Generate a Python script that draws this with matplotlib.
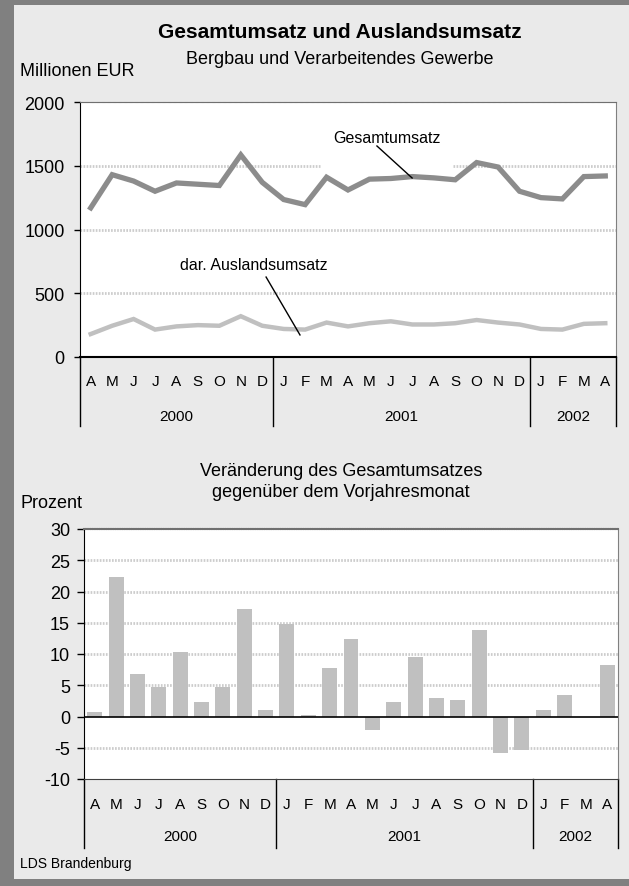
import numpy as np
import matplotlib.pyplot as plt
from matplotlib.patches import Rectangle

plt.rcParams['font.family'] = ['Liberation Sans', 'DejaVu Sans']
plt.rcParams['axes.unicode_minus'] = False

# Data (Apr 2000 - Apr 2002)
months = ['A', 'M', 'J', 'J', 'A', 'S', 'O', 'N', 'D',
          'J', 'F', 'M', 'A', 'M', 'J', 'J', 'A', 'S', 'O', 'N', 'D',
          'J', 'F', 'M', 'A']
years = ['2000', '2001', '2002']
year_len = [9, 12, 4]

gesamt = [1170, 1430, 1380, 1300, 1365, 1355, 1345, 1585, 1370,
          1235, 1195, 1410, 1310, 1395, 1400, 1415, 1405, 1390, 1525, 1490, 1300,
          1250, 1240, 1415, 1420]
ausland = [180, 245, 298, 215, 240, 250, 245, 320, 245,
           220, 215, 270, 240, 265, 280, 255, 255, 265, 290, 270, 255,
           220, 215, 260, 265]
change = [0.8, 22.3, 6.8, 4.8, 10.4, 2.4, 4.8, 17.2, 1.1,
          14.8, 0.3, 7.8, 12.4, -2.2, 2.3, 9.6, 3.0, 2.7, 13.8, -5.9, -5.4,
          1.1, 3.4, 0.0, 8.3]

W, H = 629, 887
PANEL = '#eaeaea'
GRID = '#cccccc'
DOT = (0, (0.6, 0.5))


def rect(l, t, r, b):
    return [l / W, 1 - b / H, (r - l) / W, (b - t) / H]


def ftext(x, y, s, **kw):
    fig.text(x / W, 1 - y / H, s, va='center', **kw)


def category_axis(ax, month_y, year_y, line_bottom):
    x = np.arange(len(months))
    tr = ax.get_xaxis_transform()
    for xi, m in zip(x, months):
        ax.text(xi, month_y, m, transform=tr, ha='center', va='center', fontsize=11)
    edges = -0.5 + np.cumsum([0] + year_len)
    for e in edges:
        ax.plot([e, e], [0, line_bottom], transform=tr, color='black', lw=1, clip_on=False)
    for a, b, y in zip(edges[:-1], edges[1:], years):
        ax.text((a + b) / 2, year_y, y, transform=tr, ha='center', va='center', fontsize=11)
    ax.set_xlim(-0.5, len(months) - 0.5)
    ax.set_xticks([])


fig = plt.figure(figsize=(W / 100, H / 100), dpi=100, facecolor='#808080')
fig.add_artist(Rectangle((14 / W, 1 - 880 / H), (W - 14) / W, (880 - 6) / H,
                         transform=fig.transFigure, facecolor=PANEL, edgecolor='none', zorder=0))

ftext(340, 33, 'Gesamtumsatz und Auslandsumsatz', ha='center', fontsize=15, fontweight='bold')
ftext(340, 60, 'Bergbau und Verarbeitendes Gewerbe', ha='center', fontsize=13)
ftext(20, 71, 'Millionen EUR', ha='left', fontsize=13)

# Top chart
ax1 = fig.add_axes(rect(80, 103, 616, 358))
x = np.arange(len(months))
for v in [500, 1000]:
    ax1.axhline(v, color=GRID, lw=2, ls=DOT, zorder=1)
ax1.hlines(1500, -0.5, 10.7, color=GRID, lw=2, ls=DOT, zorder=1)
ax1.hlines(1500, 16.9, 24.5, color=GRID, lw=2, ls=DOT, zorder=1)
ax1.plot(x, gesamt, color='#8c8c8c', lw=3.8, solid_joinstyle='miter', zorder=3)
ax1.plot(x, ausland, color='#c0c0c0', lw=3.2, solid_joinstyle='miter', zorder=3)
ax1.set_ylim(0, 2000)
ax1.set_yticks([0, 500, 1000, 1500, 2000])
ax1.tick_params(axis='y', length=4, width=1, pad=7, labelsize=13)
ax1.text(13.8, 1725, 'Gesamtumsatz', ha='center', va='center', fontsize=11.5)
ax1.plot([13.35, 14.99], [1655, 1404], color='black', lw=1, zorder=4)
ax1.text(7.6, 722, 'dar. Auslandsumsatz', ha='center', va='center', fontsize=11.5)
ax1.plot([8.18, 9.76], [627, 173], color='black', lw=1, zorder=4)
ax1.spines['top'].set_color('#707070')
ax1.spines['top'].set_linestyle(DOT)
ax1.spines['right'].set_color('#808080')
ax1.spines['bottom'].set_linewidth(1.5)
category_axis(ax1, -(382 - 358) / 255, -(417 - 358) / 255, -(427 - 358) / 255)

# Bottom chart
ftext(341, 472, 'Veränderung des Gesamtumsatzes', ha='center', fontsize=13)
ftext(341, 493, 'gegenüber dem Vorjahresmonat', ha='center', fontsize=13)
ftext(20, 504, 'Prozent', ha='left', fontsize=13)

ax2 = fig.add_axes(rect(84, 530, 618, 780))
for v in [-5, 5, 10, 15, 20, 25]:
    ax2.axhline(v, color=GRID, lw=2, ls=DOT, zorder=1)
ax2.bar(x, change, width=0.7, color='#c0c0c0', zorder=2)
ax2.axhline(0, color='black', lw=1.2, zorder=3)
ax2.set_ylim(-10, 30)
ax2.set_yticks(np.arange(-10, 31, 5))
ax2.tick_params(axis='y', length=5, width=1, pad=5, labelsize=13)
ax2.spines['top'].set_color('#707070')
ax2.spines['top'].set_linewidth(1.5)
ax2.spines['top'].set_linestyle(DOT)
ax2.spines['right'].set_color('#808080')
ax2.spines['bottom'].set_color('#404040')
category_axis(ax2, -(805 - 780) / 250, -(837 - 780) / 250, -(849 - 780) / 250)

ftext(20, 864, 'LDS Brandenburg', ha='left', fontsize=10)

fig.savefig('out.png', dpi=100, facecolor=fig.get_facecolor())
